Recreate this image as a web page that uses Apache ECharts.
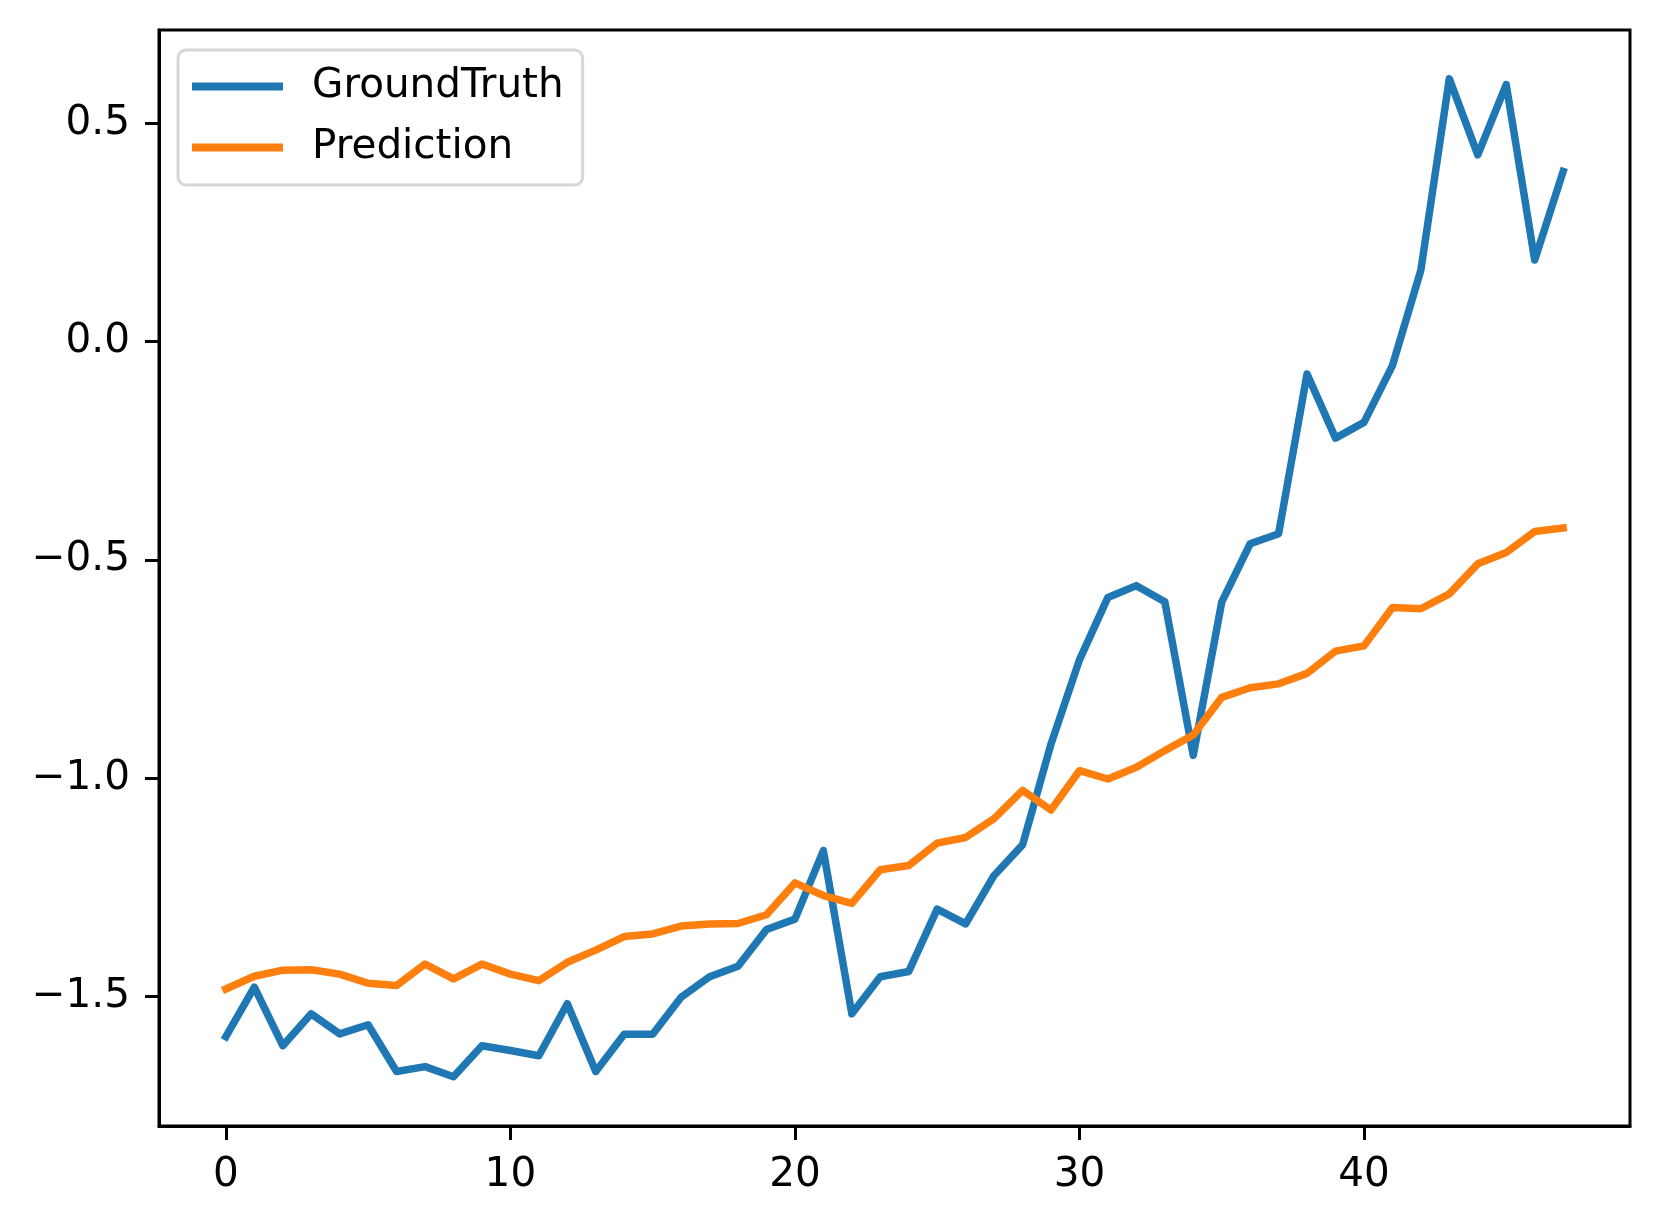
<!DOCTYPE html>
<html>
<head>
<meta charset="utf-8">
<script src="https://cdn.jsdelivr.net/npm/echarts@6/dist/echarts.min.js"></script>
<style>html,body{margin:0;padding:0;background:#fff;}#c{width:1660px;height:1225px;}</style>
</head>
<body>
<div id="c"></div>
<script>
var steps = [];
for (var k = 0; k < 48; k++) steps.push(k);
var groundTruth = [-1.592,-1.479,-1.613,-1.540,-1.586,-1.565,-1.672,-1.661,-1.684,-1.613,
  -1.624,-1.636,-1.517,-1.672,-1.587,-1.587,-1.502,-1.455,-1.431,-1.347,
  -1.323,-1.166,-1.540,-1.455,-1.443,-1.300,-1.334,-1.223,-1.153,-0.922,
  -0.729,-0.586,-0.559,-0.596,-0.948,-0.597,-0.463,-0.440,-0.074,-0.221,
  -0.185,-0.055,0.164,0.602,0.428,0.589,0.187,0.390];
var prediction = [-1.483,-1.454,-1.440,-1.439,-1.449,-1.470,-1.475,-1.426,-1.460,-1.426,
  -1.449,-1.464,-1.422,-1.394,-1.363,-1.357,-1.339,-1.334,-1.333,-1.313,
  -1.240,-1.269,-1.287,-1.210,-1.200,-1.149,-1.136,-1.093,-1.028,-1.073,
  -0.983,-1.002,-0.975,-0.937,-0.901,-0.815,-0.793,-0.784,-0.760,-0.709,
  -0.697,-0.609,-0.612,-0.578,-0.509,-0.483,-0.435,-0.427];
var xTicks = [0, 10, 20, 30, 40];
var yTicks = [-1.5, -1.0, -0.5, 0.0, 0.5];

function pairs(arr) { return arr.map(function (v, i) { return [steps[i], v]; }); }
function fmtY(v) { var s = Math.abs(v).toFixed(1); return (v < 0 ? '\u2212' : '') + s; }

var font = 'DejaVu Sans';
var fs = 40.5;
var chart = echarts.init(document.getElementById('c'), null, {renderer: 'canvas'});
chart.setOption({
  animation: false,
  backgroundColor: '#fff',
  grid: {left: 159, right: 30, top: 30, bottom: 99, show: true, borderColor: '#000', borderWidth: 3, backgroundColor: 'transparent'},
  legend: {
    show: true, orient: 'vertical', left: 178, top: 50,
    data: ['GroundTruth', 'Prediction'],
    icon: 'rect', itemWidth: 91, itemHeight: 8, itemGap: 20,
    padding: [16, 19, 17, 14],
    backgroundColor: '#fff', borderColor: '#d6d6d6', borderWidth: 3, borderRadius: 8,
    textStyle: {fontFamily: font, fontSize: fs, color: '#000', padding: [0, 0, 0, 24]}
  },
  xAxis: {
    type: 'value', min: -2.35, max: 49.35,
    splitLine: {show: false},
    axisLine: {show: true, onZero: false, lineStyle: {color: '#000', width: 3}},
    axisTick: {show: true, length: 14, lineStyle: {color: '#000', width: 3}, customValues: xTicks},
    axisLabel: {show: true, margin: 29, fontFamily: font, fontSize: fs, color: '#000', customValues: xTicks, formatter: function (v) { return String(v); }}
  },
  yAxis: {
    type: 'value', min: -1.797, max: 0.714,
    splitLine: {show: false},
    axisLine: {show: true, onZero: false, lineStyle: {color: '#000', width: 3}},
    axisTick: {show: true, length: 14, lineStyle: {color: '#000', width: 3}, customValues: yTicks},
    axisLabel: {show: true, margin: 29, fontFamily: font, fontSize: fs, color: '#000', customValues: yTicks, formatter: fmtY}
  },
  series: [
    {name: 'GroundTruth', type: 'line', data: pairs(groundTruth), showSymbol: false, symbol: 'none',
     color: '#1f77b4', lineStyle: {color: '#1f77b4', width: 7.5, cap: 'square', join: 'round'}},
    {name: 'Prediction', type: 'line', data: pairs(prediction), showSymbol: false, symbol: 'none',
     color: '#ff7f0e', lineStyle: {color: '#ff7f0e', width: 7.5, cap: 'square', join: 'round'}}
  ]
});
</script>
</body>
</html>
